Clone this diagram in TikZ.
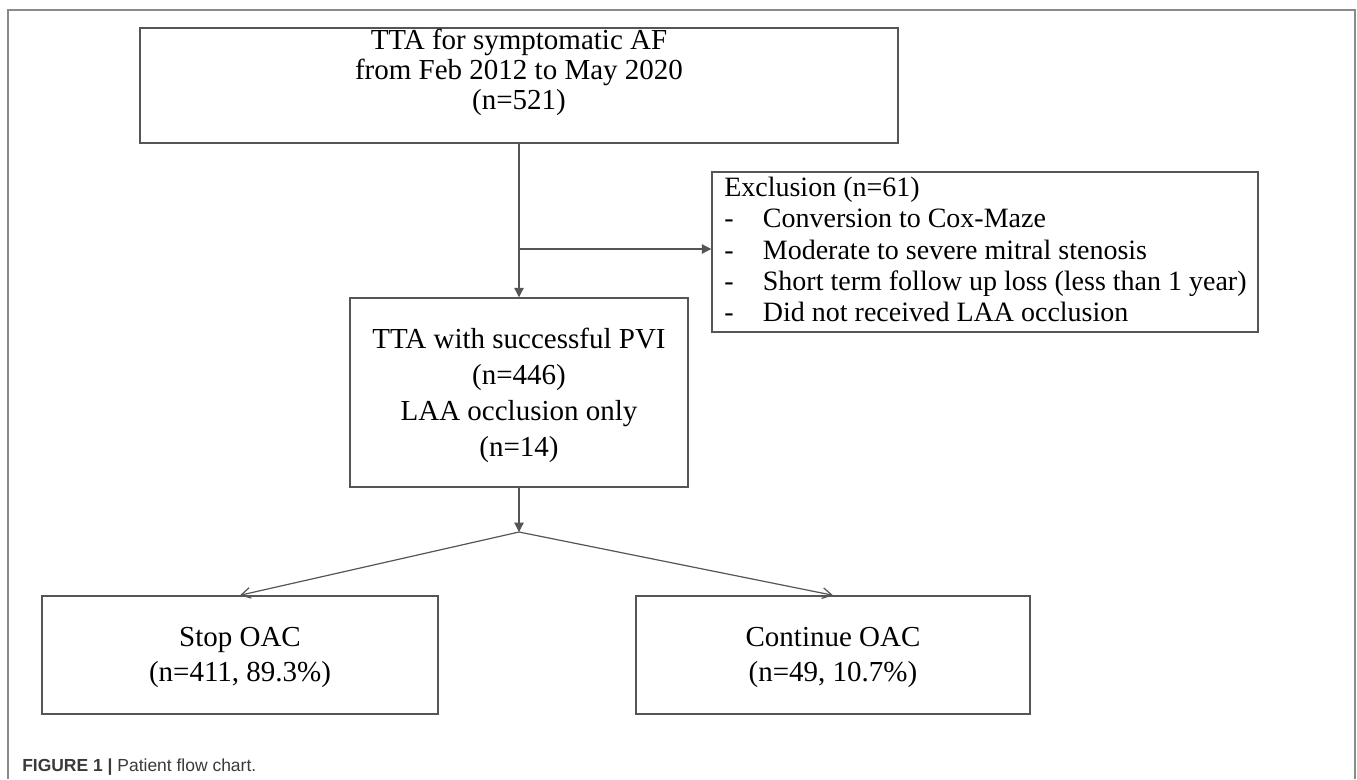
\documentclass[tikz,border=0pt]{standalone}
\usepackage{fontspec}
\setmainfont{Liberation Serif}
\newfontfamily\capfont{Liberation Sans}
\usetikzlibrary{arrows.meta,fit}
\definecolor{boxline}{HTML}{555555}
\definecolor{frameline}{HTML}{8A8A8A}
\definecolor{captext}{HTML}{3A3A3A}
\begin{document}
\begin{tikzpicture}[x=0.75pt,y=-0.75pt,
  box/.style={draw=boxline, line width=1.1pt, inner sep=0pt},
  txt/.style={font=\fontsize{21.75pt}{22.5pt}\selectfont, align=center, inner sep=0pt},
  conn/.style={draw=boxline, line width=0.9pt},
  solidtip/.style={-{Triangle[length=7pt,width=7pt]}},
  opentip/.style={-{Straight Barb[length=7pt,width=8pt,line width=0.9pt]}}]
\useasboundingbox (0,0) rectangle (1357,779);
\draw[draw=frameline, line width=1.6pt] (8,779) -- (8,10) -- (1355,10) -- (1355,779);

% boxes
\node[box, fit={(140,28) (898,143)}] (top) {};
\node[box, fit={(712,172) (1258,332)}] (excl) {};
\node[box, fit={(350,298) (688,487)}] (mid) {};
\node[box, fit={(42,596) (438,714)}] (stop) {};
\node[box, fit={(636,596) (1030,714)}] (cont) {};

% texts
\node[txt] (toptxt) at (519,72) {TTA for symptomatic AF\\from Feb 2012 to May 2020\\(n=521)};
\node[txt, align=left, anchor=north west, font=\fontsize{21pt}{23.4pt}\selectfont] (excltxt) at (724,177)
  {Exclusion (n=61)\\
   \makebox[29pt][l]{-}Conversion to Cox-Maze\\
   \makebox[29pt][l]{-}Moderate to severe mitral stenosis\\
   \makebox[29pt][l]{-}Short term follow up loss (less than 1 year)\\
   \makebox[29pt][l]{-}Did not received LAA occlusion};
\node[txt, font=\fontsize{21.75pt}{27pt}\selectfont] (midtxt) at (519,395) {TTA with successful PVI\\(n=446)\\LAA occlusion only\\(n=14)};
\node[txt, font=\fontsize{21.75pt}{26.25pt}\selectfont] (stoptxt) at (240,657) {Stop OAC\\(n=411, 89.3\%)};
\node[txt, font=\fontsize{21.75pt}{26.25pt}\selectfont] (conttxt) at (833,657) {Continue OAC\\(n=49, 10.7\%)};

% connectors
\coordinate (j1) at (519,249);
\coordinate (j2) at (519,532);
\draw[conn, solidtip] (top.south -| mid.north) -- (mid.north);
\draw[conn, solidtip] (j1) -- (j1 -| excl.west);
\draw[conn, solidtip] (mid.south) -- (j2);
\draw[conn, opentip] (j2) -- (stop.north);
\draw[conn, opentip] (j2) -- (cont.north);

% caption
\node[anchor=base west, inner sep=0pt, text=captext, font=\capfont\fontsize{13.1pt}{15pt}\selectfont] (cap) at (22,771) {\textbf{FIGURE 1 |} Patient flow chart.};
\end{tikzpicture}
\end{document}
